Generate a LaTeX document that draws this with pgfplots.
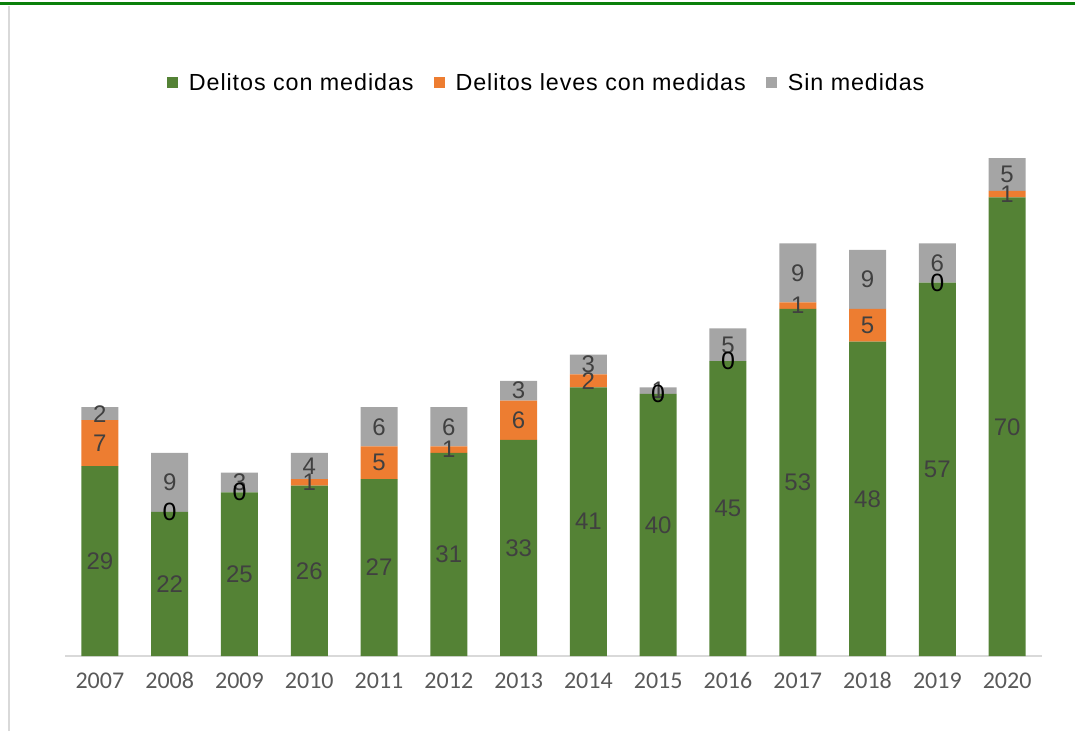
\documentclass[border=0pt]{standalone}
\usepackage{pgfplots}
\usepackage{pgfplotstable}
\pgfplotsset{compat=1.18}
\usepackage{fontspec}
\setmainfont{Liberation Sans}
\newfontfamily\tickfont{Carlito}
\newfontfamily\legfont[LetterSpace=4]{Liberation Sans}
\definecolor{cgreen}{HTML}{548235}
\definecolor{corange}{HTML}{ED7D31}
\definecolor{cgray}{HTML}{A5A5A5}
\definecolor{labgray}{HTML}{404040}
\definecolor{tickgray}{HTML}{595959}
\definecolor{axisgray}{HTML}{D9D9D9}
\definecolor{framegreen}{HTML}{0A800A}

\pgfplotstableread{
x green orange gray
0 29 7 2
1 22 0 9
2 25 0 3
3 26 1 4
4 27 5 6
5 31 1 6
6 33 6 3
7 41 2 3
8 40 0 1
9 45 0 5
10 53 1 9
11 48 5 9
12 57 0 6
13 70 1 5
}\bars

\pgfplotstableread{
x y lab
0 14.5 29
0 32.5 7
0 37 2
1 11 22
1 26.5 9
2 12.5 25
2 26.5 3
3 13 26
3 26.5 1
3 29 4
4 13.5 27
4 29.5 5
4 35 6
5 15.5 31
5 31.5 1
5 35 6
6 16.5 33
6 36 6
6 40.5 3
7 20.5 41
7 42 2
7 44.5 3
8 20 40
8 40.5 1
9 22.5 45
9 47.5 5
10 26.5 53
10 53.5 1
10 58.5 9
11 24 48
11 50.5 5
11 57.5 9
12 28.5 57
12 60 6
13 35 70
13 70.5 1
13 73.5 5
}\labs

\pgfplotstableread{
x y lab
1 22 0
2 25 0
8 40 0
9 45 0
12 57 0
}\zeros

\begin{document}
\begin{tikzpicture}[x=1pt,y=1pt]
\path[use as bounding box] (0,0) rectangle (1075,731);
\begin{axis}[
  at={(65pt,75pt)}, anchor=south west,
  scale only axis, width=977pt, height=524pt,
  ybar stacked, bar width=37pt,
  xmin=-0.5, xmax=13.5, ymin=0, ymax=80,
  axis x line*=bottom, axis y line=none,
  x axis line style={draw=axisgray, line width=2pt},
  xtick={0,...,13},
  xticklabels={2007,2008,2009,2010,2011,2012,2013,2014,2015,2016,2017,2018,2019,2020},
  xtick style={draw=none},
  typeset ticklabels with strut,
  xticklabel style={font=\tickfont\fontsize{24}{24}\selectfont, text=tickgray, yshift=-12pt},
  ytick=\empty,
  clip=false,
  legend columns=3,
  legend style={at={(0.493,1.0935)}, anchor=center, draw=none, fill=none,
    font=\legfont\fontsize{23.3}{26}\selectfont,
    /tikz/every odd column/.append style={column sep=9pt},
    /tikz/every even column/.append style={column sep=18pt}},
  legend image code/.code={\fill[#1] (0pt,-5.5pt) rectangle (11pt,5.5pt);},
]
\addplot[fill=cgreen, draw=none] table[x=x,y=green] {\bars};
\addplot[fill=corange, draw=none] table[x=x,y=orange] {\bars};
\addplot[fill=cgray, draw=none] table[x=x,y=gray] {\bars};
\legend{Delitos con medidas, Delitos leves con medidas, Sin medidas}
\end{axis}
\begin{axis}[
  at={(65pt,75pt)}, anchor=south west,
  scale only axis, width=977pt, height=524pt,
  xmin=-0.5, xmax=13.5, ymin=0, ymax=80,
  axis lines=none, clip=false,
]
\addplot[only marks, mark=*, mark size=0pt, mark options={draw=none,fill=none},
  nodes near coords, point meta=explicit symbolic,
  every node near coord/.style={anchor=center, inner sep=0pt, text=labgray,
    font=\fontsize{24}{24}\selectfont}]
  table[x=x,y=y,meta=lab] {\labs};
\addplot[only marks, mark=*, mark size=0pt, mark options={draw=none,fill=none},
  nodes near coords, point meta=explicit symbolic,
  every node near coord/.style={anchor=center, inner sep=0pt, text=black,
    font=\fontsize{25}{25}\selectfont}]
  table[x=x,y=y,meta=lab] {\zeros};
\end{axis}
\draw[framegreen, line width=3pt] (0,727.5) -- (1075,727.5);
\draw[axisgray, line width=2pt] (8.5,0) -- (8.5,725);
\end{tikzpicture}
\end{document}
